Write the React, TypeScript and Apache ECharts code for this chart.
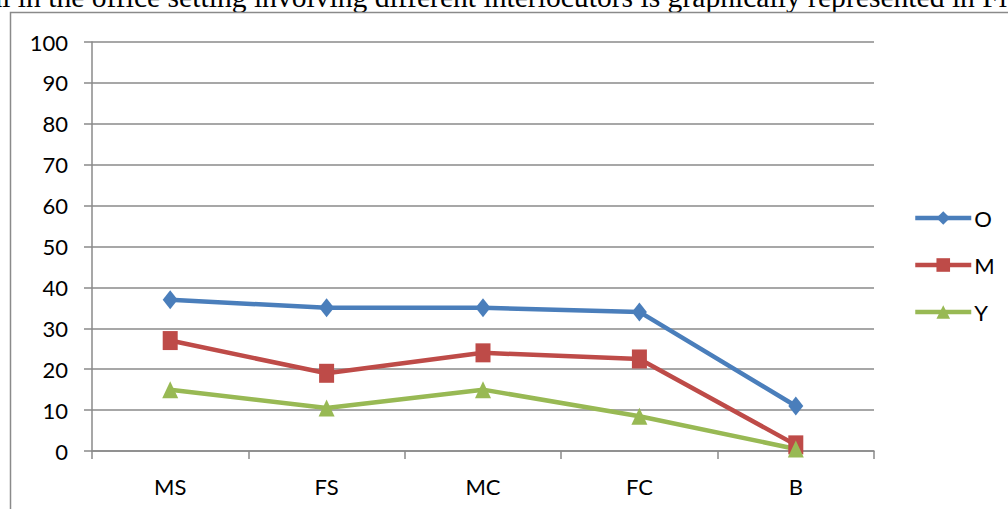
import React, { useEffect, useRef } from "react";
import * as echarts from "echarts";

// Interlocutor categories along the x axis
const categories = ["MS", "FS", "MC", "FC", "B"];

// Series values (percent)
const seriesO = [37, 35, 35, 34, 11];
const seriesM = [27, 19, 24, 22.5, 1.5];
const seriesY = [15, 10.5, 15, 8.5, 0.5];

// Y axis range
const yMin = 0;
const yMax = 100;
const yStep = 10;

const captionText =
  "al in the office setting involving different interlocutors is graphically represented in Fi";

const FONT = "Lato, 'Liberation Sans', sans-serif";
const GRAY = "#8a8a8a";

export default function App() {
  const ref = useRef<HTMLDivElement>(null);

  useEffect(() => {
    if (!ref.current) return;
    const chart = echarts.init(ref.current, undefined, { renderer: "svg" });

    const mk = (
      name: string,
      data: number[],
      color: string,
      symbol: string,
      size: number[]
    ) => ({
      name,
      type: "line",
      data,
      symbol,
      symbolSize: size,
      showAllSymbol: true,
      lineStyle: { color, width: 4.5 },
      itemStyle: { color },
      emphasis: { disabled: true },
      z: 3,
    });

    chart.setOption({
      animation: false,
      backgroundColor: "#ffffff",
      textStyle: { fontFamily: FONT },
      graphic: [
        {
          type: "text",
          left: -11,
          top: -18,
          silent: true,
          style: {
            text: captionText,
            fontFamily: "'Liberation Serif', 'Times New Roman', serif",
            fontSize: 29.6,
            fill: "#000",
          },
        },
        {
          type: "polyline",
          silent: true,
          shape: {
            points: [
              [10.5, 520],
              [10.5, 12.5],
              [1020, 12.5],
            ],
          },
          style: { stroke: GRAY, lineWidth: 1.5, fill: "none" },
        },
      ],
      grid: { left: 92, right: 134, top: 42, bottom: 58 },
      legend: {
        orient: "vertical",
        left: 913,
        top: 207,
        padding: 0,
        itemWidth: 56,
        itemHeight: 17,
        itemGap: 25,
        lineStyle: { width: 4.5 },
        textStyle: { fontSize: 22, color: "#000", fontFamily: FONT, padding: [0, 0, 0, -2] },
        data: ["O", "M", "Y"],
      },
      xAxis: {
        type: "category",
        data: categories,
        boundaryGap: true,
        axisLine: { lineStyle: { color: GRAY, width: 1.5 } },
        axisTick: { show: true, length: 8, inside: false, lineStyle: { color: GRAY, width: 1.5 } },
        axisLabel: { fontSize: 22, color: "#000", margin: 24, fontFamily: FONT },
        splitLine: { show: false },
      },
      yAxis: {
        type: "value",
        min: yMin,
        max: yMax,
        interval: yStep,
        axisLine: { show: true, lineStyle: { color: GRAY, width: 1.5 } },
        axisTick: { show: true, length: 8, lineStyle: { color: GRAY, width: 1.5 } },
        axisLabel: { fontSize: 22, color: "#000", margin: 24, fontFamily: FONT },
        splitLine: { show: true, lineStyle: { color: GRAY, width: 1.5 } },
      },
      series: [
        mk("O", seriesO, "#4a7ebb", "diamond", [15, 19]),
        mk("M", seriesM, "#be4b48", "rect", [15, 19]),
        mk("Y", seriesY, "#98b954", "triangle", [16, 17]),
      ],
    });

    return () => chart.dispose();
  }, []);

  return (
    <div
      ref={ref}
      style={{ position: "fixed", left: 0, top: 0, width: 1008, height: 509 }}
    />
  );
}
